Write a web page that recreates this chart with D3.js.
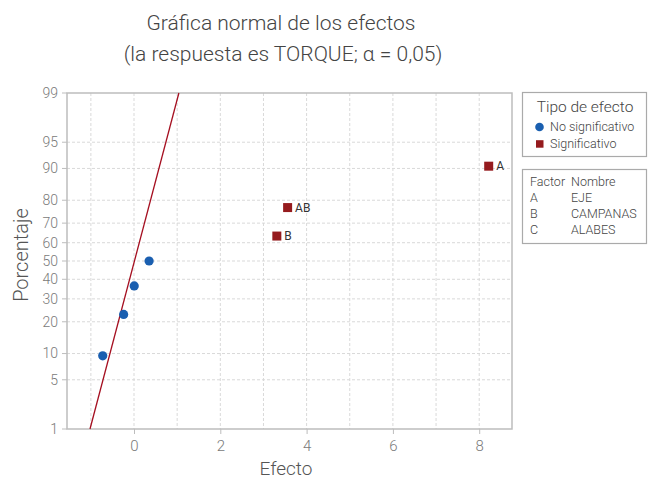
<!DOCTYPE html>
<html><head><meta charset="utf-8">
<script src="https://cdn.jsdelivr.net/npm/d3@7"></script>
<style>
body{margin:0;background:#fff;}
text{font-family:Roboto,"Liberation Sans",sans-serif;}
</style></head>
<body><svg id="c" width="648" height="480"></svg>
<script>
// ---- data ----
const effectNames = ["ABC","BC","AC","C","B","AB","A"];
const effectValues = [-0.725, -0.24, 0.005, 0.35, 3.31, 3.56, 8.22];
const effectPercents = [9.46, 22.97, 36.49, 50.0, 63.51, 77.03, 90.54];
const significant = [false, false, false, false, true, true, true];
const labelShown = [false, false, false, false, true, true, true];
const lineEffect = [-1.02, 1.04];
const linePercent = [1, 99];
const yTicks = [1, 5, 10, 20, 30, 40, 50, 60, 70, 80, 90, 95, 99];
const xTicks = [0, 2, 4, 6, 8];
const xGrid = [-1, 0, 1, 2, 3, 4, 5, 6, 7, 8];
const factorCodes = ["A","B","C"];
const factorNames = ["EJE","CAMPANAS","ALABES"];
const legendTypes = ["No significativo","Significativo"];

// ---- layout ----
const svg = d3.select("#c");
const L = 67, R = 512, T = 93, B = 429;
const x = d3.scaleLinear().domain([-1.553, 8.76]).range([L, R]);
const probit = p => {
  // inverse normal CDF (Acklam)
  const a=[-3.969683028665376e+01,2.209460984245205e+02,-2.759285104469687e+02,1.383577518672690e+02,-3.066479806614716e+01,2.506628277459239e+00];
  const b=[-5.447609879822406e+01,1.615858368580409e+02,-1.556989798598866e+02,6.680131188771972e+01,-1.328068155288572e+01];
  const c=[-7.784894002430293e-03,-3.223964580411365e-01,-2.400758277161838e+00,-2.549732539343734e+00,4.374664141464968e+00,2.938163982698783e+00];
  const d=[7.784695709041462e-03,3.224671290700398e-01,2.445134137142996e+00,3.754408661907416e+00];
  const pl=0.02425;
  let q,r;
  if(p<pl){q=Math.sqrt(-2*Math.log(p));return (((((c[0]*q+c[1])*q+c[2])*q+c[3])*q+c[4])*q+c[5])/((((d[0]*q+d[1])*q+d[2])*q+d[3])*q+1);}
  if(p>1-pl){q=Math.sqrt(-2*Math.log(1-p));return -(((((c[0]*q+c[1])*q+c[2])*q+c[3])*q+c[4])*q+c[5])/((((d[0]*q+d[1])*q+d[2])*q+d[3])*q+1);}
  q=p-0.5;r=q*q;return (((((a[0]*r+a[1])*r+a[2])*r+a[3])*r+a[4])*r+a[5])*q/(((((b[0]*r+b[1])*r+b[2])*r+b[3])*r+b[4])*r+1);
};
const zs = d3.scaleLinear().domain([probit(0.01), probit(0.99)]).range([B, T]);
const y = pct => zs(probit(pct/100));

const gridCol = "#d9d9d9", axisCol = "#bdbdbd", tickTxt = "#7a7a7a";

// grid
svg.append("g").selectAll("line").data(xGrid).join("line")
  .attr("x1", d=>x(d)).attr("x2", d=>x(d)).attr("y1", T).attr("y2", B)
  .attr("stroke", gridCol).attr("stroke-dasharray","3,2").attr("stroke-width",1);
svg.append("g").selectAll("line").data(yTicks.slice(1,-1)).join("line")
  .attr("x1", L).attr("x2", R).attr("y1", d=>y(d)).attr("y2", d=>y(d))
  .attr("stroke", gridCol).attr("stroke-dasharray","3,2").attr("stroke-width",1);

// axes
const xAxis = d3.axisBottom(x).tickValues(xTicks).tickSize(5).tickPadding(6).tickFormat(d3.format("d"));
const gx = svg.append("g").attr("transform",`translate(0,${B})`).call(xAxis);
const gy = svg.append("g").attr("transform",`translate(${L},0)`);
gy.selectAll("line.t").data(yTicks).join("line").attr("class","t")
  .attr("x1",-5).attr("x2",0).attr("y1",d=>y(d)).attr("y2",d=>y(d)).attr("stroke",axisCol);
gy.selectAll("text").data(yTicks).join("text")
  .attr("x",-9).attr("y",d=>y(d)).attr("dy","0.35em").attr("text-anchor","end")
  .attr("font-size",14).attr("font-weight",300).attr("fill",tickTxt).text(d=>d);
[gx].forEach(g=>{
  g.select(".domain").remove();
  g.selectAll("line").attr("stroke",axisCol);
  g.selectAll("text").attr("font-size",15).attr("font-weight",300).attr("fill",tickTxt).attr("font-family","Roboto");
});
// frame
svg.append("rect").attr("x",L).attr("y",T).attr("width",R-L).attr("height",B-T)
  .attr("fill","none").attr("stroke",axisCol).attr("stroke-width",1.5);

// reference line
svg.append("line")
  .attr("x1", x(lineEffect[0])).attr("y1", y(linePercent[0]))
  .attr("x2", x(lineEffect[1])).attr("y2", y(linePercent[1]))
  .attr("stroke","#a50f20").attr("stroke-width",1.3);

// points
const pts = effectValues.map((v,i)=>({v, p:effectPercents[i], s:significant[i], n:effectNames[i], lab:labelShown[i]}));
const blue = "#1a5fb0", red = "#951b1e";
svg.append("g").selectAll("circle").data(pts.filter(d=>!d.s)).join("circle")
  .attr("cx",d=>x(d.v)).attr("cy",d=>y(d.p)).attr("r",4.6).attr("fill",blue);
svg.append("g").selectAll("rect").data(pts.filter(d=>d.s)).join("rect")
  .attr("x",d=>x(d.v)-4.5).attr("y",d=>y(d.p)-4.5).attr("width",9).attr("height",9).attr("fill",red);
svg.append("g").selectAll("text").data(pts.filter(d=>d.lab)).join("text")
  .attr("x",d=>x(d.v)+7.5).attr("y",d=>y(d.p)).attr("dy","0.35em")
  .attr("font-family","'Open Sans',sans-serif").attr("font-size",12).attr("fill","#333").text(d=>d.n);

// titles
const title = svg.append("text").attr("text-anchor","middle").attr("font-size",21).attr("font-weight",300).attr("fill","#444");
title.append("tspan").attr("x",281).attr("y",30).text("Gráfica normal de los efectos");
title.append("tspan").attr("x",283).attr("y",61).text("(la respuesta es TORQUE; α = 0,05)");
svg.append("text").attr("x",286).attr("y",475).attr("text-anchor","middle").attr("font-size",19).attr("font-weight",300).attr("fill","#555").text("Efecto");
svg.append("text").attr("transform","translate(28,255) rotate(-90)").attr("text-anchor","middle").attr("font-size",20).attr("font-weight",300).attr("fill","#555").text("Porcentaje");

// legend 1
const lg = svg.append("g");
lg.append("rect").attr("x",522.5).attr("y",92.5).attr("width",124).attr("height",64).attr("fill","none").attr("stroke","#aaa").attr("stroke-width",1.2);
lg.append("text").attr("x",585).attr("y",112).attr("text-anchor","middle").attr("font-size",15.5).attr("font-weight",300).attr("fill","#444").text("Tipo de efecto");
lg.selectAll("g.it").data(legendTypes).join("g").attr("class","it").each(function(d,i){
  const g = d3.select(this), cy = 127 + i*17;
  if(i===0) g.append("circle").attr("cx",539.5).attr("cy",cy).attr("r",4.3).attr("fill",blue);
  else g.append("rect").attr("x",536).attr("y",cy-3.8).attr("width",7.5).attr("height",7.5).attr("fill",red);
  g.append("text").attr("x",550).attr("y",cy).attr("dy","0.35em").attr("font-size",12.5).attr("font-weight",300).attr("fill","#444").text(d);
});
// legend 2
const lf = svg.append("g");
lf.append("rect").attr("x",522.5).attr("y",169.5).attr("width",124).attr("height",74).attr("fill","none").attr("stroke","#aaa").attr("stroke-width",1.2);
lf.append("text").attr("x",530).attr("y",182).attr("dy","0.35em").attr("font-size",12.5).attr("font-weight",300).attr("fill","#444").text("Factor");
lf.append("text").attr("x",571).attr("y",182).attr("dy","0.35em").attr("font-size",12.5).attr("font-weight",300).attr("fill","#444").text("Nombre");
factorCodes.forEach((c,i)=>{
  const yy = 198 + i*16;
  lf.append("text").attr("x",530).attr("y",yy).attr("dy","0.35em").attr("font-size",12.5).attr("font-weight",300).attr("fill","#444").text(c);
  lf.append("text").attr("x",571).attr("y",yy).attr("dy","0.35em").attr("font-size",12.5).attr("font-weight",300).attr("fill","#444").text(factorNames[i]);
});
</script></body></html>
